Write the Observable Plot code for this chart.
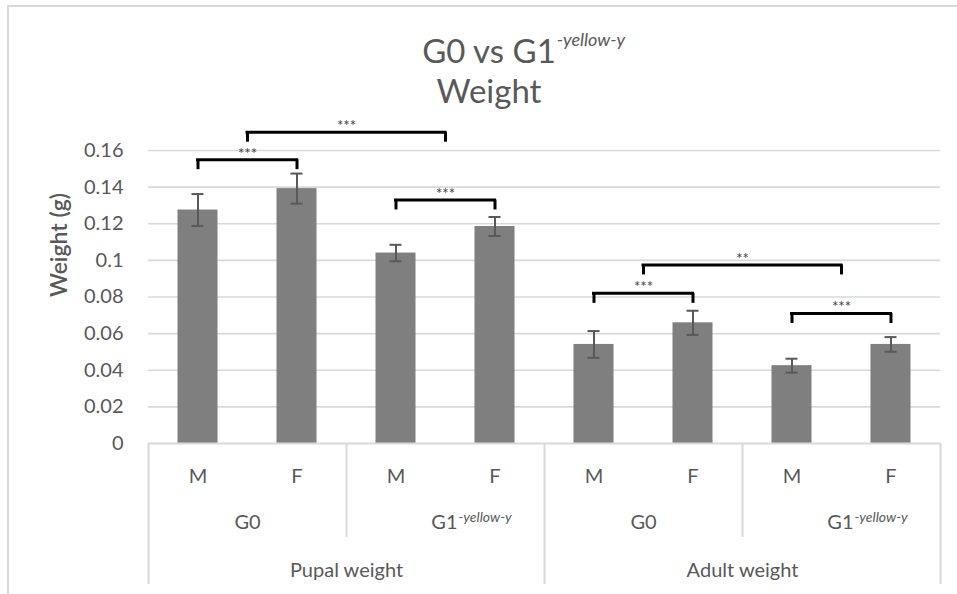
<!DOCTYPE html>
<html>
<head>
<meta charset="utf-8">
<script src="https://cdn.jsdelivr.net/npm/d3@7"></script>
<script src="https://cdn.jsdelivr.net/npm/@observablehq/plot@0.6"></script>
<style>
  html, body { margin: 0; padding: 0; background: #fff; }
  #wrap { position: relative; width: 957px; height: 594px; overflow: hidden; font-family: Lato, sans-serif; color: #595959; }
  #chart { position: absolute; left: 0; top: 0; }
  .tl { position: absolute; left: 0; width: 978px; text-align: center; font-size: 33px; line-height: 33px; white-space: nowrap; }
  .tl .main { position: relative; }
  .tl .sup { position: absolute; left: 100%; top: 0; margin-left: 1px; font-size: 18px; line-height: 18px; font-style: italic; white-space: nowrap; }
  #frame { position: absolute; left: 7px; top: 5px; width: 970px; height: 620px; border-left: 2px solid #d9d9d9; border-top: 2px solid #d9d9d9; pointer-events: none; }
</style>
</head>
<body>
<div id="wrap">
  <div id="chart"></div>
  <div class="tl" style="top:34px"><span class="main">G0 vs G1<span class="sup">-yellow-y</span></span></div>
  <div class="tl" style="top:74px">Weight</div>
  <div id="frame"></div>
</div>
<script>
// ---- data ----
const sexes       = ["M", "F", "M", "F", "M", "F", "M", "F"];
const generations = ["G0", "G0", "G1", "G1", "G0", "G0", "G1", "G1"];
const stages      = ["Pupal weight", "Pupal weight", "Pupal weight", "Pupal weight",
                     "Adult weight", "Adult weight", "Adult weight", "Adult weight"];
const weights     = [0.1275, 0.1392, 0.1040, 0.1185, 0.0541, 0.0659, 0.0425, 0.0541];
const errors      = [0.0087, 0.0082, 0.0045, 0.0052, 0.0073, 0.0066, 0.0038, 0.0040];
const genSuffix   = {"G0": "", "G1": "-yellow-y"};
const yTicks      = [0, 0.02, 0.04, 0.06, 0.08, 0.1, 0.12, 0.14, 0.16];
// significance comparisons (bar indices on each side), bracket height, label
const sigA     = [[0], [0, 1], [2], [4], [4, 5], [6]];
const sigB     = [[1], [2, 3], [3], [5], [6, 7], [7]];
const sigLevel = [0.155, 0.170, 0.133, 0.082, 0.0975, 0.071];
const sigLabel = ["***", "***", "***", "***", "**", "***"];

// ---- derived tables ----
const bars = weights.map((w, i) => ({i, sex: sexes[i], gen: generations[i], stage: stages[i], w, e: errors[i]}));
const center = ids => d3.mean(ids, i => i + 0.5);
const brackets = sigLevel.map((y, k) => ({x1: center(sigA[k]), x2: center(sigB[k]), y, label: sigLabel[k]}));

function runs(keyFn, labelFn) {
  const out = [];
  bars.forEach((d, i) => {
    const k = keyFn(d), last = out[out.length - 1];
    if (last && last.key === k) last.end = i + 1;
    else out.push({key: k, start: i, end: i + 1, label: labelFn(d)});
  });
  out.forEach(r => r.mid = (r.start + r.end) / 2);
  return out;
}
const genRuns = runs(d => d.stage + "|" + d.gen, d => d.gen);
const stageRuns = runs(d => d.stage, d => d.stage);
const longSeps = [0, ...stageRuns.map(r => r.end)];
const shortSeps = genRuns.map(r => r.start).filter(s => !longSeps.includes(s));

const GRID = "#d9d9d9", TXT = "#595959";
const W = 957, H = 594, ML = 148, MR = 17, MT = 150, MB = 151;

const chart = Plot.plot({
  width: W, height: H,
  marginLeft: ML, marginRight: MR, marginTop: MT, marginBottom: MB,
  x: {domain: [0, bars.length], axis: null},
  y: {domain: [0, 0.16], axis: null},
  style: {fontFamily: "Lato, sans-serif", color: TXT, background: "transparent", overflow: "visible"},
  marks: [
    Plot.ruleY(yTicks.filter(t => t > 0), {stroke: GRID, strokeWidth: 1.6}),
    Plot.axisY(yTicks, {tickSize: 0, tickPadding: 25, tickFormat: d => String(+d.toFixed(2)), fontSize: 20, fill: TXT, label: null}),
    Plot.text(["Weight (g)"], {frameAnchor: "left", rotate: -90, dx: -89, fontSize: 23, fontWeight: 600, fill: TXT}),
    // bars
    Plot.rect(bars, {x1: "i", x2: d => d.i + 1, y1: 0, y2: "w", fill: "#7f7f7f", insetLeft: 29.5, insetRight: 29.5}),
    // error bars
    Plot.ruleX(bars, {x: d => d.i + 0.5, y1: d => d.w - d.e, y2: d => d.w + d.e, stroke: TXT, strokeWidth: 2}),
    Plot.ruleY(bars, {x1: d => d.i + 0.5, x2: d => d.i + 0.5, y: d => d.w + d.e, stroke: TXT, strokeWidth: 2, insetLeft: -6, insetRight: -6}),
    Plot.ruleY(bars, {x1: d => d.i + 0.5, x2: d => d.i + 0.5, y: d => d.w - d.e, stroke: TXT, strokeWidth: 2, insetLeft: -6, insetRight: -6}),
    // significance brackets
    Plot.ruleY(brackets, {x1: "x1", x2: "x2", y: "y", stroke: "#000", strokeWidth: 3, insetLeft: -1.5, insetRight: -1.5}),
    Plot.ruleX(brackets, {x: "x1", y1: "y", y2: "y", stroke: "#000", strokeWidth: 3, insetBottom: -10}),
    Plot.ruleX(brackets, {x: "x2", y1: "y", y2: "y", stroke: "#000", strokeWidth: 3, insetBottom: -10}),
    Plot.text(brackets, {x: d => (d.x1 + d.x2) / 2, y: "y", text: "label", lineAnchor: "bottom", dy: -1, fontSize: 15, fill: "#404040"}),
    // category axis
    Plot.ruleY([0], {stroke: GRID, strokeWidth: 2}),
    Plot.ruleX(longSeps, {x: d => d, y1: 0, y2: 0, stroke: GRID, strokeWidth: 2, insetBottom: -141}),
    Plot.ruleX(shortSeps, {x: d => d, y1: 0, y2: 0, stroke: GRID, strokeWidth: 2, insetBottom: -94}),
    Plot.text(bars, {x: d => d.i + 0.5, text: "sex", frameAnchor: "bottom", lineAnchor: "bottom", dy: 39, fontSize: 20, fill: TXT}),
    Plot.text(genRuns.filter(r => !genSuffix[r.label]), {x: "mid", text: "label", frameAnchor: "bottom", lineAnchor: "bottom", dy: 85, fontSize: 20, fill: TXT}),
    Plot.text(genRuns.filter(r => genSuffix[r.label]), {x: "mid", text: "label", frameAnchor: "bottom", lineAnchor: "bottom", textAnchor: "end", dx: 12, dy: 85, fontSize: 20, fill: TXT}),
    Plot.text(genRuns.filter(r => genSuffix[r.label]), {x: "mid", text: r => genSuffix[r.label], frameAnchor: "bottom", lineAnchor: "bottom", textAnchor: "start", dx: 13, dy: 78, fontSize: 14, fontStyle: "italic", fill: TXT}),
    Plot.text(stageRuns, {x: "mid", text: "label", frameAnchor: "bottom", lineAnchor: "bottom", dy: 133, fontSize: 20, fill: TXT})
  ]
});
document.getElementById("chart").appendChild(chart);
</script>
</body>
</html>
